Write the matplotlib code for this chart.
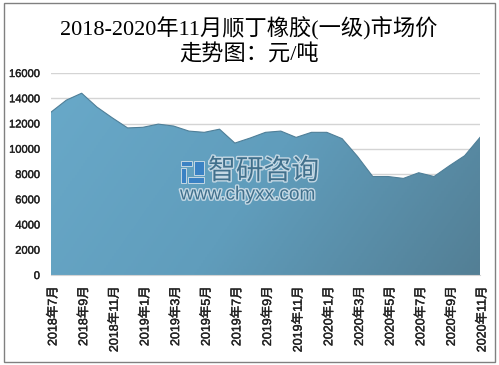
# -*- coding: utf-8 -*-
import numpy as np
import matplotlib
matplotlib.use("Agg")
import matplotlib.pyplot as plt
import matplotlib.patches as mpatches
import matplotlib.patheffects as pe
from matplotlib.colors import LinearSegmentedColormap
from matplotlib.transforms import ScaledTranslation

months = ["2018年7月", "2018年8月", "2018年9月", "2018年10月", "2018年11月", "2018年12月",
          "2019年1月", "2019年2月", "2019年3月", "2019年4月", "2019年5月", "2019年6月",
          "2019年7月", "2019年8月", "2019年9月", "2019年10月", "2019年11月", "2019年12月",
          "2020年1月", "2020年2月", "2020年3月", "2020年4月", "2020年5月", "2020年6月",
          "2020年7月", "2020年8月", "2020年9月", "2020年10月", "2020年11月"]
prices = [12900, 13850, 14400, 13300, 12450, 11650,
          11700, 11950, 11800, 11400, 11300, 11550,
          10450, 10850, 11300, 11400, 10900, 11300,
          11300, 10800, 9400, 7800, 7800, 7650,
          8100, 7800, 8650, 9450, 10900]
yticks = [0, 2000, 4000, 6000, 8000, 10000, 12000, 14000, 16000]

W, H = 499, 365
sans = ["Liberation Sans", "Noto Sans CJK SC"]
serif = ["Liberation Serif", "Noto Sans CJK SC"]
heavy = [pe.withStroke(linewidth=0.3, foreground="#222222")]

fig = plt.figure(figsize=(W / 100, H / 100), dpi=100, facecolor="white")
ax = fig.add_axes([51 / W, 1 - 275 / H, 429 / W, 202 / H])

x = np.arange(len(prices))
ax.set_xlim(0, len(prices) - 1)
ax.set_ylim(0, 16000)
ax.set_yticks(yticks)
ax.set_xticks(x[::2])
ax.set_xticklabels(months[::2], rotation=90, family=sans, fontsize=9, color="#222222")
ax.tick_params(axis="both", length=0)
ax.tick_params(axis="x", pad=8)
ax.tick_params(axis="y", pad=8)
shift = ScaledTranslation(2.5 / 100, 0, fig.dpi_scale_trans)
for lab in ax.get_xticklabels():
    lab.set_transform(lab.get_transform() + shift)
    lab.set_path_effects(heavy)
for lab in ax.get_yticklabels():
    lab.set_family(sans)
    lab.set_fontsize(8)
    lab.set_color("#222222")
    lab.set_path_effects(heavy)
ax.grid(axis="y", color="#d4d4d4", lw=1)
ax.set_axisbelow(True)
for s in ax.spines.values():
    s.set_visible(False)
ax.spines["bottom"].set_visible(True)
ax.spines["bottom"].set_color("#d4d4d4")

# diagonal gradient for the area
poly = ax.fill_between(x, prices, 0, color="none", lw=0)
cmap = LinearSegmentedColormap.from_list("area", ["#69a9c9", "#609dbc", "#537f95"])
gx, gy = np.meshgrid(np.linspace(0, 1, 200), np.linspace(1, 0, 200))
im = ax.imshow(gx * 0.75 + gy * 0.25, extent=[0, len(prices) - 1, 0, 16000], aspect="auto",
               cmap=cmap, origin="lower", zorder=2)
im.set_clip_path(poly.get_paths()[0], transform=ax.transData)
ax.plot(x, prices, color="#4f7f98", lw=0.8, zorder=3)

fig.text(249 / W, 1 - 28 / H, "2018-2020年11月顺丁橡胶(一级)市场价", family=serif, fontsize=16,
         ha="center", va="center", color="black")
fig.text(249 / W, 1 - 55 / H, "走势图：元/吨", family=serif, fontsize=16,
         ha="center", va="center", color="black")

# watermark
halo = [pe.withStroke(linewidth=2, foreground="#c4d8e4")]
fig.text(208 / W, 1 - 172 / H, "智研咨询", family=sans, fontsize=20, color="#41708c",
         ha="left", va="center", zorder=5, path_effects=halo)
fig.text(180 / W, 1 - 195 / H, "www.chyxx.com", family=sans, fontsize=13.7, color="#41708c",
         ha="left", va="center", zorder=5, path_effects=halo)
for rx, ry, rw, rh in [(181, 161, 11, 5), (181, 168, 5, 15), (194, 161, 10, 14), (188, 177, 16, 6)]:
    fig.add_artist(mpatches.Rectangle((rx / W, 1 - (ry + rh) / H), rw / W, rh / H,
                                      transform=fig.transFigure, fc="#3b82c4", ec="#c4d8e4",
                                      lw=0.7, zorder=5))

# outer border
fig.add_artist(mpatches.Rectangle((3.5 / W, 1 - 362 / H), 491.5 / W, 359.5 / H,
                                  transform=fig.transFigure, fill=False, ec="#808080", lw=1))

fig.savefig("out.png", dpi=100)
